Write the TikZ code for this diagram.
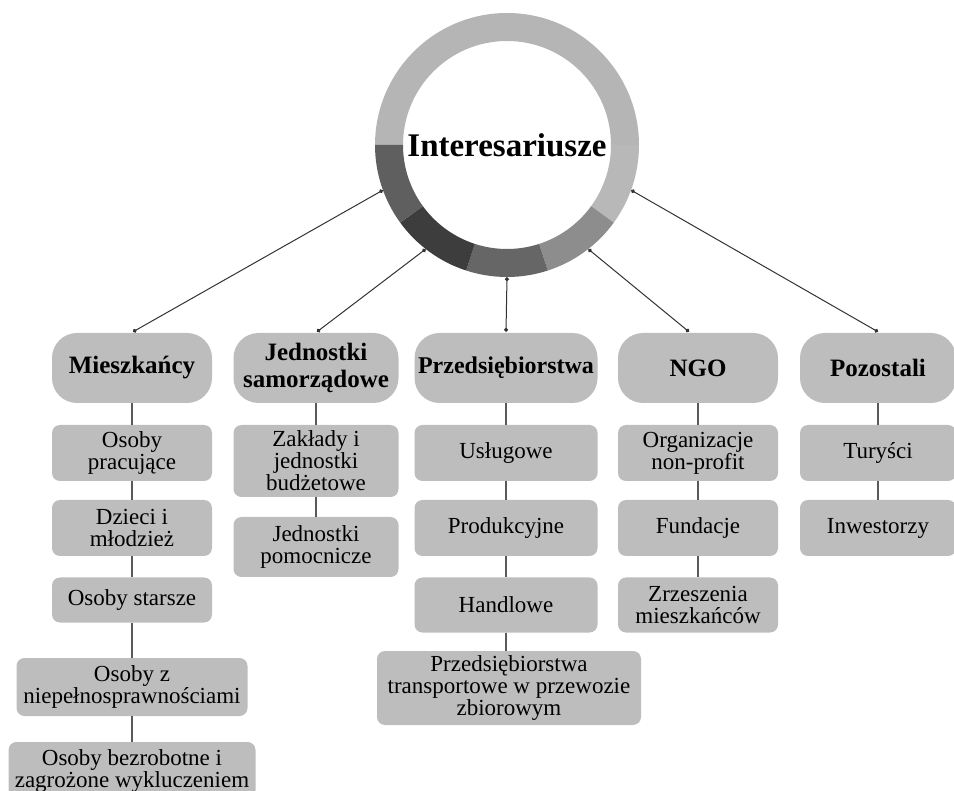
\documentclass[tikz,border=0pt]{standalone}
\usepackage{fontspec}
\setmainfont{Liberation Serif}
\usetikzlibrary{arrows.meta}
\definecolor{boxgray}{HTML}{BDBDBD}
\definecolor{ringA}{HTML}{B5B5B5}
\definecolor{ringB}{HTML}{B8B8B8}
\definecolor{ringC}{HTML}{8D8D8D}
\definecolor{ringD}{HTML}{666666}
\definecolor{ringE}{HTML}{3D3D3D}
\definecolor{ringF}{HTML}{5F5F5F}
\tikzset{
  topbox/.style={rectangle, rounded corners=25pt, fill=boxgray, inner sep=0pt,
    align=center, font=\fontsize{25}{27}\selectfont\bfseries, minimum height=70pt},
  subbox/.style={rectangle, rounded corners=8pt, fill=boxgray, inner sep=0pt,
    align=center, font=\fontsize{23}{22}\selectfont},
  vline/.style={draw=black!65, line width=1.2pt},
  conn/.style={draw=black!80, line width=1pt, {Circle[length=4pt]}-{Circle[length=4pt]}}
}
\newcommand{\ringseg}[3]{%
  \fill[#3] ([shift={(#1:132pt)}]C) arc[start angle=#1, end angle=#2, radius=132pt]
    -- ([shift={(#2:104pt)}]C) arc[start angle=#2, end angle=#1, radius=104pt] -- cycle;}
\begin{document}
\begin{tikzpicture}[x=1pt, y=-1pt]
\useasboundingbox (0,0) rectangle (954,791);
\clip (0,0) rectangle (954,791);
% ring
\coordinate (C) at (507,145);
\ringseg{0}{180}{ringA}
\ringseg{0}{-36}{ringB}
\ringseg{-36}{-72}{ringC}
\ringseg{-72}{-108}{ringD}
\ringseg{-108}{-144}{ringE}
\ringseg{-144}{-180}{ringF}
\node[circle, inner sep=0pt, minimum size=264pt] (ring) at (C) {};
\node[font=\fontsize{33}{33}\selectfont\bfseries] (title) at (C) {Interesariusze};
% top boxes
\node[topbox, minimum width=160pt] (mies) at (132,368) {Mieszkańcy};
\node[topbox, minimum width=165pt] (jst) at (316,368) {Jednostki\\samorządowe};
\node[topbox, minimum width=183pt, font=\fontsize{24}{24}\selectfont\bfseries] (prz) at (506,368) {Przedsiębiorstwa};
\node[topbox, minimum width=160pt] (ngo) at (698,368) {NGO};
\node[topbox, minimum width=156pt] (poz) at (878,368) {Pozostali};
% Mieszkańcy column
\node[subbox, minimum width=160pt, minimum height=56pt] (m1) at (132,453) {Osoby\\pracujące};
\node[subbox, minimum width=160pt, minimum height=56pt] (m2) at (132,528) {Dzieci i\\młodzież};
\node[subbox, minimum width=160pt, minimum height=45pt] (m3) at (132,600) {Osoby starsze};
\node[subbox, minimum width=231pt, minimum height=58pt] (m4) at (132,687) {Osoby z\\niepełnosprawnościami};
\node[subbox, minimum width=247pt, minimum height=58pt] (m5) at (132,771) {Osoby bezrobotne i\\zagrożone wykluczeniem};
% Jednostki column
\node[subbox, minimum width=165pt, minimum height=72pt] (j1) at (316,461) {Zakłady i\\jednostki\\budżetowe};
\node[subbox, minimum width=165pt, minimum height=60pt] (j2) at (316,547) {Jednostki\\pomocnicze};
% Przedsiębiorstwa column
\node[subbox, minimum width=183pt, minimum height=56pt] (p1) at (506,453) {Usługowe};
\node[subbox, minimum width=183pt, minimum height=56pt] (p2) at (506,528) {Produkcyjne};
\node[subbox, minimum width=183pt, minimum height=55pt] (p3) at (506,605) {Handlowe};
\node[subbox, minimum width=264pt, minimum height=74pt] (p4) at (509,688) {Przedsiębiorstwa\\transportowe w przewozie\\zbiorowym};
% NGO column
\node[subbox, minimum width=160pt, minimum height=56pt] (n1) at (698,453) {Organizacje\\non-profit};
\node[subbox, minimum width=160pt, minimum height=56pt] (n2) at (698,528) {Fundacje};
\node[subbox, minimum width=160pt, minimum height=55pt] (n3) at (698,605) {Zrzeszenia\\mieszkańców};
% Pozostali column
\node[subbox, minimum width=156pt, minimum height=56pt] (o1) at (878,453) {Turyści};
\node[subbox, minimum width=156pt, minimum height=56pt] (o2) at (878,528) {Inwestorzy};
% vertical lines
\draw[vline] (mies.south) -- (m1.north);
\draw[vline] (m1.south) -- (m2.north);
\draw[vline] (m2.south) -- (m3.north);
\draw[vline] (m3.south) -- (m4.north);
\draw[vline] (m4.south) -- (m5.north);
\draw[vline] (jst.south) -- (j1.north);
\draw[vline] (j1.south) -- (j2.north);
\draw[vline] (prz.south) -- (p1.north);
\draw[vline] (p1.south) -- (p2.north);
\draw[vline] (p2.south) -- (p3.north);
\draw[vline] (p3.south) -- ([xshift=-3pt]p4.north);
\draw[vline] (ngo.south) -- (n1.north);
\draw[vline] (n1.south) -- (n2.north);
\draw[vline] (n2.south) -- (n3.north);
\draw[vline] (poz.south) -- (o1.north);
\draw[vline] (o1.south) -- (o2.north);
% connectors to ring
\draw[conn] (ring.200) -- ([xshift=1pt, yshift=1pt]mies.north);
\draw[conn] (ring.232) -- ([xshift=1pt, yshift=1pt]jst.north);
\draw[conn] (ring.270) -- ([yshift=1pt]prz.north);
\draw[conn] (ring.308.5) -- ([xshift=-9pt, yshift=1pt]ngo.north);
\draw[conn] (ring.340) -- ([yshift=1pt]poz.north);
\end{tikzpicture}
\end{document}
